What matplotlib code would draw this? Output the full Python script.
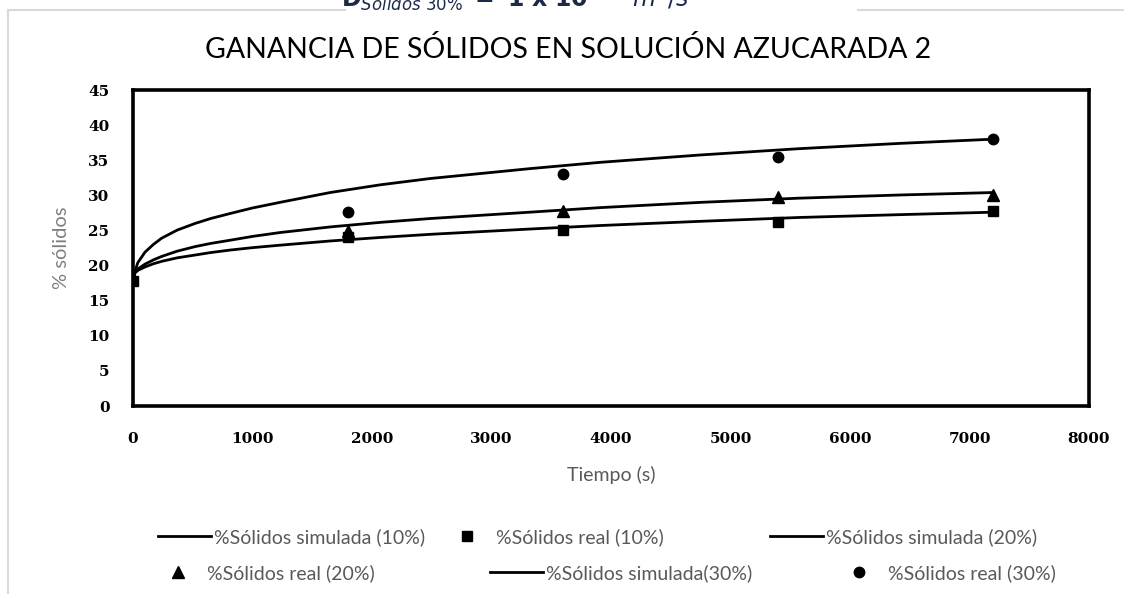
import matplotlib
matplotlib.use("Agg")
import matplotlib.pyplot as plt
from matplotlib.lines import Line2D

# Simulated solids content (%) versus time (s)
t_sim = [0, 15, 40, 100, 170, 240, 370, 520, 650, 810, 1000, 1230, 1650, 2070, 2490, 3320,
         3910, 4750, 5580, 6420, 7200]
sim_10 = [17.7, 18.9, 19.3, 19.8, 20.25, 20.6, 21.1, 21.5, 21.85, 22.2, 22.55, 22.9, 23.5,
          24.0, 24.45, 25.2, 25.7, 26.3, 26.85, 27.25, 27.6]
sim_20 = [17.7, 19.0, 19.5, 20.2, 20.8, 21.3, 22.05, 22.7, 23.15, 23.6, 24.15, 24.7, 25.5,
          26.15, 26.7, 27.6, 28.25, 29.0, 29.6, 30.05, 30.4]
sim_30 = [17.7, 19.1, 20.4, 21.9, 23.0, 23.9, 25.05, 26.0, 26.7, 27.4, 28.2, 29.0, 30.4,
          31.5, 32.4, 33.8, 34.7, 35.75, 36.65, 37.4, 38.0]

# Measured solids content (%)
t_real_10 = [0, 1800, 3600, 5400, 7200]
real_10 = [17.8, 24.1, 25.1, 26.2, 27.7]
t_real = [1800, 3600, 5400, 7200]
real_20 = [24.9, 27.8, 29.7, 30.1]
real_30 = [27.6, 33.1, 35.4, 38.0]

x_ticks = [0, 1000, 2000, 3000, 4000, 5000, 6000, 7000, 8000]
y_ticks = [0, 5, 10, 15, 20, 25, 30, 35, 40, 45]

title = "GANANCIA DE SÓLIDOS EN SOLUCIÓN AZUCARADA 2"
labels = ["%Sólidos simulada (10%)", "%Sólidos real (10%)", "%Sólidos simulada (20%)",
          "%Sólidos real (20%)", "%Sólidos simulada(30%)", "%Sólidos real (30%)"]

sans = ["Lato", "DejaVu Sans"]
serif_b = ["DejaVu Serif"]

W, H = 1124, 594
fig = plt.figure(figsize=(W / 100, H / 100), dpi=100)
fig.patch.set_facecolor("white")

# outer chart-area frame (light grey), partly hidden behind the formula box
fig.add_artist(Line2D([8 / W, 8 / W], [0, 1 - 10 / H], color="#d9d9d9", lw=1.5))
fig.add_artist(Line2D([8 / W, 345 / W], [1 - 10 / H, 1 - 10 / H], color="#d9d9d9", lw=1.5))
fig.add_artist(Line2D([858 / W, 1], [1 - 10 / H, 1 - 10 / H], color="#d9d9d9", lw=1.5))

# diffusion coefficient formula above the chart, cut by the top edge
fig.text(515 / W, 1 - 7 / H,
         r"$\mathbf{D}_{\mathit{Sólidos\ 30\%}}\ \mathbf{=\ 1\ x\ 10^{-10}}\ \mathit{m^2/s}$",
         ha="center", va="baseline", fontsize=17, color="#1c2a4a")

ax = fig.add_axes([133 / W, 1 - 406 / H, (1089 - 133) / W, (406 - 90) / H])

ax.plot(t_sim, sim_10, color="black", lw=2.0, zorder=3, solid_joinstyle="round")
ax.plot(t_sim, sim_20, color="black", lw=2.0, zorder=3, solid_joinstyle="round")
ax.plot(t_sim, sim_30, color="black", lw=2.0, zorder=3, solid_joinstyle="round")
ax.plot(t_real, real_20, ls="none", marker="^", ms=8, color="black", zorder=4)
ax.plot(t_real, real_30, ls="none", marker="o", ms=7.5, color="black", zorder=4)
ax.plot(t_real_10, real_10, ls="none", marker="s", ms=7.5, color="black", zorder=5)

ax.set_xlim(0, 8000)
ax.set_ylim(0, 45)
ax.set_xticks(x_ticks)
ax.set_yticks(y_ticks)
ax.tick_params(length=0)
ax.tick_params(axis="y", pad=17)
ax.tick_params(axis="x", pad=19)
for lab in ax.get_xticklabels() + ax.get_yticklabels():
    lab.set_fontfamily(serif_b)
    lab.set_fontweight("bold")
    lab.set_fontsize(11)
for sp in ax.spines.values():
    sp.set_linewidth(2.6)
    sp.set_color("black")

ax.set_xlabel("Tiempo (s)", family=sans, fontsize=14, color="#595959", labelpad=14)
ax.set_ylabel("% sólidos", family=sans, fontsize=14.5, color="#7f7f7f", labelpad=13)

fig.text(568 / W, 1 - 50 / H, title, ha="center", va="center", family=sans,
         fontsize=20.5, color="black")

# legend entries laid out in two rows
line_h = Line2D([], [], color="black", lw=2.0)
sq_h = Line2D([], [], color="black", ls="none", marker="s", ms=7.5)
tri_h = Line2D([], [], color="black", ls="none", marker="^", ms=8)
cir_h = Line2D([], [], color="black", ls="none", marker="o", ms=7.5)
entries = [
    (line_h, labels[0], 158, 537),
    (sq_h, labels[1], 440, 537),
    (line_h, labels[2], 770, 537),
    (tri_h, labels[3], 151, 573),
    (line_h, labels[4], 490, 573),
    (cir_h, labels[5], 832, 573),
]
for h, lab, x0, y0 in entries:
    leg = fig.legend([h], [lab], loc="center left", bbox_to_anchor=(x0 / W, 1 - y0 / H),
                     frameon=False, borderpad=0, borderaxespad=0, handlelength=2.75,
                     handletextpad=0.15, prop={"family": sans, "size": 14})
    for txt in leg.get_texts():
        txt.set_color("#595959")

fig.savefig("out.png", dpi=100, facecolor="white")
